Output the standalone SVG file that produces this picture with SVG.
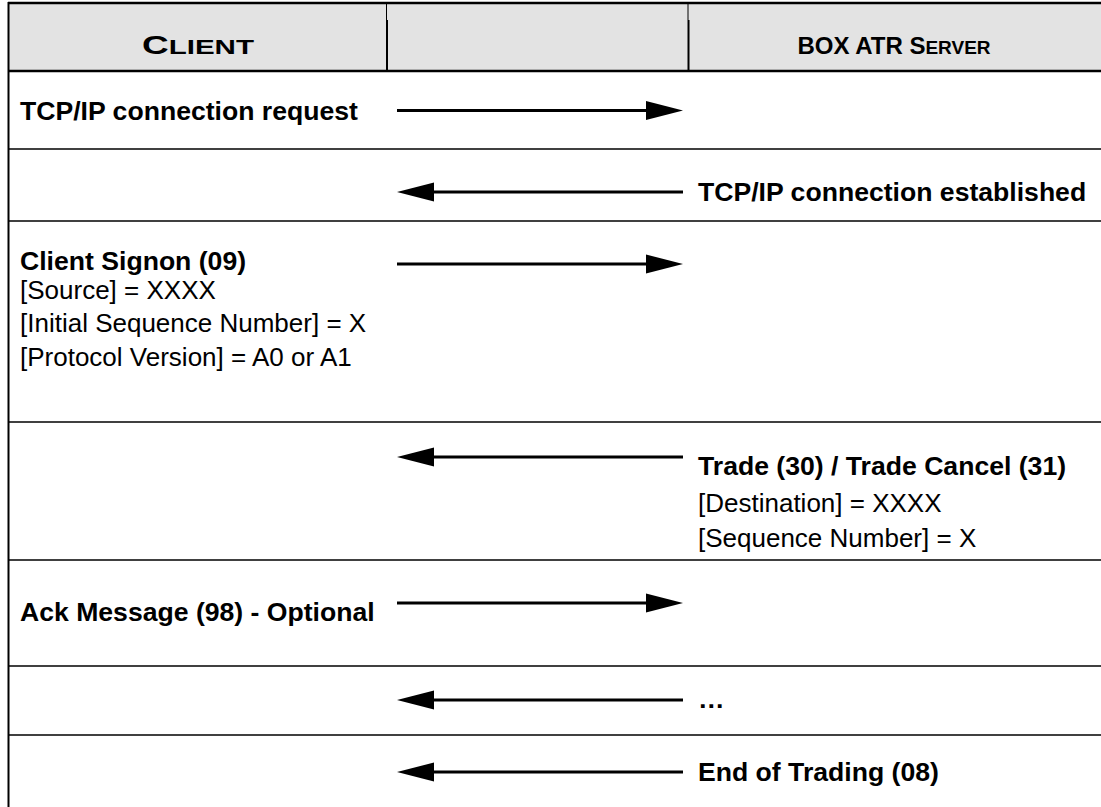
<svg xmlns="http://www.w3.org/2000/svg" width="1101" height="807" viewBox="0 0 1101 807">
<style>
.b{font-family:"Liberation Sans",Arial,sans-serif;font-weight:bold;font-size:26.6px;fill:#000}
.r{font-family:"Liberation Sans",Arial,sans-serif;font-size:26px;fill:#000}
.h{font-family:"Liberation Sans",Arial,sans-serif;font-weight:bold;fill:#000}
.row{stroke:#000;stroke-width:1.5}
.arr{stroke:#000;stroke-width:3;fill:none;marker-end:url(#head)}
</style>
<defs>
<marker id="head" markerUnits="userSpaceOnUse" markerWidth="40" markerHeight="22" refX="0" refY="9.5" orient="auto" overflow="visible">
<path d="M0,0 L37,9.5 L0,19 Z" fill="#000"/>
</marker>
</defs>
<g id="table">
<rect x="9" y="3" width="1100" height="68" fill="#e3e3e3"/>
<line x1="8" y1="3" x2="1101" y2="3" stroke="#000" stroke-width="2.5"/>
<line x1="8" y1="71" x2="1101" y2="71" stroke="#000" stroke-width="2.5"/>
<line x1="8.5" y1="2" x2="8.5" y2="807" stroke="#000" stroke-width="2"/>
<line x1="386.5" y1="3" x2="386.5" y2="20" stroke="#000" stroke-width="1"/>
<line x1="387" y1="20" x2="387" y2="71" stroke="#000" stroke-width="2"/>
<line x1="688" y1="3" x2="688" y2="20" stroke="#000" stroke-width="1"/>
<line x1="688.5" y1="20" x2="688.5" y2="71" stroke="#000" stroke-width="2"/>
<line class="row" x1="9" y1="149" x2="1101" y2="149"/>
<line class="row" x1="9" y1="221" x2="1101" y2="221"/>
<line class="row" x1="9" y1="422" x2="1101" y2="422"/>
<line class="row" x1="9" y1="560" x2="1101" y2="560"/>
<line class="row" x1="9" y1="666" x2="1101" y2="666"/>
<line class="row" x1="9" y1="735" x2="1101" y2="735"/>
</g>
<g id="header-client"><text class="h" x="198" y="54" text-anchor="middle" textLength="112" lengthAdjust="spacingAndGlyphs"><tspan font-size="25">C</tspan><tspan font-size="20">LIENT</tspan></text></g>
<g id="header-server"><text class="h" x="894" y="54" text-anchor="middle"><tspan font-size="24">BOX ATR S</tspan><tspan font-size="19">ERVER</tspan></text></g>
<g id="n1"><text class="b" x="20" y="120">TCP/IP connection request</text></g>
<g id="n2"><text class="b" x="698" y="201">TCP/IP connection established</text></g>
<g id="n3"><text class="b" x="20" y="270">Client Signon (09)</text>
<text class="r" x="20" y="299">[Source] = XXXX</text>
<text class="r" x="20" y="332">[Initial Sequence Number] = X</text>
<text class="r" x="20" y="366">[Protocol Version] = A0 or A1</text></g>
<g id="n4"><text class="b" x="698" y="475">Trade (30) / Trade Cancel (31)</text>
<text class="r" x="698" y="512">[Destination] = XXXX</text>
<text class="r" x="698" y="547">[Sequence Number] = X</text></g>
<g id="n5"><text class="b" x="20" y="621">Ack Message (98) - Optional</text></g>
<g id="n6"><text class="b" x="698" y="708">…</text></g>
<g id="n7"><text class="b" x="698" y="781">End of Trading (08)</text></g>
<g id="connectors">
<line class="arr" x1="397" y1="110.5" x2="646" y2="110.5"/>
<line class="arr" x1="683" y1="192" x2="434" y2="192"/>
<line class="arr" x1="397" y1="264" x2="646" y2="264"/>
<line class="arr" x1="683" y1="457" x2="434" y2="457"/>
<line class="arr" x1="397" y1="603" x2="646" y2="603"/>
<line class="arr" x1="683" y1="700" x2="434" y2="700"/>
<line class="arr" x1="683" y1="772" x2="434" y2="772"/>
</g>
</svg>
